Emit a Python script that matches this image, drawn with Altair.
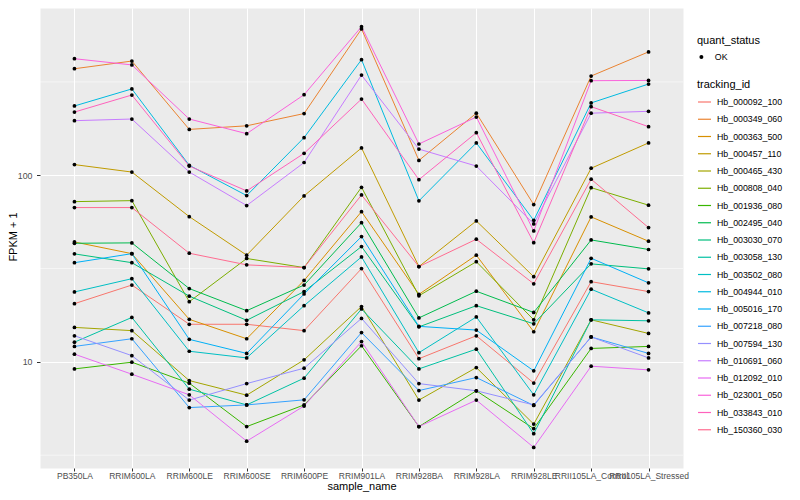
import altair as alt
import pandas as pd

samples = ["PB350LA", "RRIM600LA", "RRIM600LE", "RRIM600SE", "RRIM600PE", "RRIM901LA",
           "RRIM928BA", "RRIM928LA", "RRIM928LE", "RRII105LA_Control", "RRII105LA_Stressed"]

tracking_ids = ["Hb_000092_100", "Hb_000349_060", "Hb_000363_500", "Hb_000457_110", "Hb_000465_430",
                "Hb_000808_040", "Hb_001936_080", "Hb_002495_040", "Hb_003030_070", "Hb_003058_130",
                "Hb_003502_080", "Hb_004944_010", "Hb_005016_170", "Hb_007218_080", "Hb_007594_130",
                "Hb_010691_060", "Hb_012092_010", "Hb_023001_050", "Hb_033843_010", "Hb_150360_030"]

colors = ["#F8766D", "#EA8331", "#D89000", "#C09B00", "#A3A500", "#7CAE00", "#39B600", "#00BB4E",
          "#00BF7D", "#00C1A3", "#00BFC4", "#00BAE0", "#00B0F6", "#35A2FF", "#9590FF", "#C77CFF",
          "#E76BF3", "#FA62DB", "#FF62BC", "#FF6C91"]

# FPKM + 1, in the order of `samples`
hb_000092_100 = [20.5, 25.8, 15.9, 15.9, 14.7, 31.6, 10.4, 13.8, 7.7, 26.9, 23.8]
hb_000349_060 = [372, 409, 176, 184, 214, 608, 120, 215, 69.6, 340, 458]
hb_000363_500 = [43.9, 38.0, 16.9, 13.3, 27.3, 63.8, 23.0, 37.3, 14.5, 59.8, 44.3]
hb_000457_110 = [114, 104, 60.0, 37.3, 77.5, 140, 32.4, 56.9, 28.6, 109, 149]
hb_000465_430 = [15.3, 14.7, 7.94, 6.63, 10.25, 19.8, 6.24, 9.32, 4.64, 16.8, 14.2]
hb_000808_040 = [72.2, 73.1, 21.0, 35.8, 32.0, 86.2, 22.6, 34.4, 16.8, 85.8, 69.1]
hb_001936_080 = [9.17, 9.96, 7.69, 4.5, 5.88, 12.2, 4.5, 7.0, 4.39, 11.8, 12.1]
hb_002495_040 = [43.2, 43.4, 24.7, 18.8, 25.8, 55.7, 17.2, 23.9, 18.4, 45.0, 40.0]
hb_003030_070 = [37.9, 34.0, 22.5, 16.7, 23.8, 41.5, 15.4, 20.0, 16.0, 33.5, 31.5]
hb_003058_130 = [12.75, 17.3, 7.14, 5.88, 8.18, 19.2, 9.17, 11.7, 4.12, 16.8, 16.6]
hb_003502_080 = [23.7, 27.9, 11.4, 10.5, 20.0, 36.5, 11.2, 17.4, 6.66, 24.5, 18.3]
hb_004944_010 = [235, 290, 113, 77.8, 159, 416, 72.9, 149, 57.3, 244, 308]
hb_005016_170 = [34.0, 38.0, 13.2, 11.1, 23.1, 46.9, 15.5, 14.8, 8.95, 35.9, 26.5]
hb_007218_080 = [12.1, 13.3, 5.69, 5.88, 6.26, 14.35, 7.02, 8.24, 5.84, 13.6, 11.1]
hb_007594_130 = [13.8, 10.8, 6.24, 7.65, 9.25, 17.1, 7.65, 7.0, 5.88, 13.6, 10.5]
hb_010691_060 = [196, 200, 104, 68.8, 117, 344, 138, 112, 54.8, 215, 220]
hb_012092_010 = [11.0, 8.59, 6.66, 3.76, 5.8, 12.85, 4.5, 6.24, 3.48, 9.48, 9.06]
hb_023001_050 = [421, 390, 200, 167, 270, 625, 147, 205, 50.3, 321, 322]
hb_033843_010 = [218, 269, 112, 82.4, 131, 256, 94.7, 169, 43.5, 233, 182]
hb_150360_030 = [67.1, 67.1, 38.2, 33.1, 32.0, 78.4, 32.4, 45.4, 26.2, 95.2, 52.4]

series = [hb_000092_100, hb_000349_060, hb_000363_500, hb_000457_110, hb_000465_430,
          hb_000808_040, hb_001936_080, hb_002495_040, hb_003030_070, hb_003058_130,
          hb_003502_080, hb_004944_010, hb_005016_170, hb_007218_080, hb_007594_130,
          hb_010691_060, hb_012092_010, hb_023001_050, hb_033843_010, hb_150360_030]

minor_breaks = [3.1623, 31.623, 316.23]
major_breaks = [10, 100]

rows = []
for tid, vals in zip(tracking_ids, series):
    for i, (s, v) in enumerate(zip(samples, vals)):
        rows.append({"tracking_id": tid, "sample_name": s, "idx": i, "fpkm": v, "quant_status": "OK"})
df = pd.DataFrame(rows)

FONT = "Liberation Sans"

x_enc = alt.X("sample_name:N", sort=samples,
              scale=alt.Scale(type="point", padding=0.6),
              axis=alt.Axis(title="sample_name", labelAngle=0, labelOverlap=False,
                            labelFontSize=8.5, labelColor="#4D4D4D", labelPadding=0,
                            tickSize=3, tickColor="#333333", tickWidth=1,
                            grid=True, gridColor="white", gridWidth=1.07,
                            titleFontSize=11, titleFontWeight="normal", titleColor="black",
                            titleY=18.5, titleBaseline="middle", labelLimit=300))

y_scale = alt.Scale(type="log", domain=[2.70, 787], nice=False, zero=False)
y_axis = alt.Axis(title="FPKM + 1", values=major_breaks, format="d",
                  labelFontSize=8.8, labelColor="#4D4D4D", labelPadding=4.5,
                  tickSize=3.5, tickColor="#333333", tickWidth=1,
                  grid=True, gridColor="white", gridWidth=1.07,
                  titleFontSize=11, titleFontWeight="normal", titleColor="black",
                  titleX=-26.5, titleY=228.5, titleBaseline="middle", titleAlign="center")
y_enc = alt.Y("fpkm:Q", scale=y_scale, axis=y_axis)

minor = alt.Chart(pd.DataFrame({"fpkm": minor_breaks})).mark_rule(
    color="white", strokeWidth=0.55).encode(y=y_enc)

lines = alt.Chart(df).mark_line(strokeWidth=1.0).encode(
    x=x_enc, y=y_enc,
    order=alt.Order("idx:Q"),
    color=alt.Color("tracking_id:N",
                    scale=alt.Scale(domain=tracking_ids, range=colors),
                    legend=alt.Legend(title="tracking_id", orient="none", legendX=657, legendY=70.5,
                                      symbolType="stroke", symbolSize=169, symbolStrokeWidth=1.2,
                                      labelFontSize=8.8, labelColor="black", labelFont=FONT,
                                      titleFontSize=11, titleFontWeight="normal", titleFont=FONT,
                                      titleColor="black", rowPadding=4.25, titlePadding=5,
                                      labelOffset=5, padding=0, labelLimit=200)))

points = alt.Chart(df).mark_point(filled=True, size=14, opacity=1, color="black").encode(
    x=x_enc, y=y_enc,
    shape=alt.Shape("quant_status:N",
                    scale=alt.Scale(domain=["OK"], range=["circle"]),
                    legend=alt.Legend(title="quant_status", orient="none", legendX=657, legendY=26.5,
                                      symbolSize=16, symbolFillColor="black", symbolStrokeColor="black",
                                      labelFontSize=8.8, labelColor="black", labelFont=FONT,
                                      titleFontSize=11, titleFontWeight="normal", titleFont=FONT,
                                      titleColor="black", titlePadding=7, labelOffset=9, padding=0)))

chart = alt.layer(minor, lines, points).properties(
    width=643, height=460,
    padding={"left": 32, "top": 0, "right": 109, "bottom": 24},
    autosize=alt.AutoSizeParams(type="none"),
).configure_view(
    fill="#EBEBEB", stroke="transparent"
).configure_axis(
    domain=False, labelFont=FONT, titleFont=FONT
)

chart.save("out.html", embed_options={"renderer": "svg", "actions": False})
